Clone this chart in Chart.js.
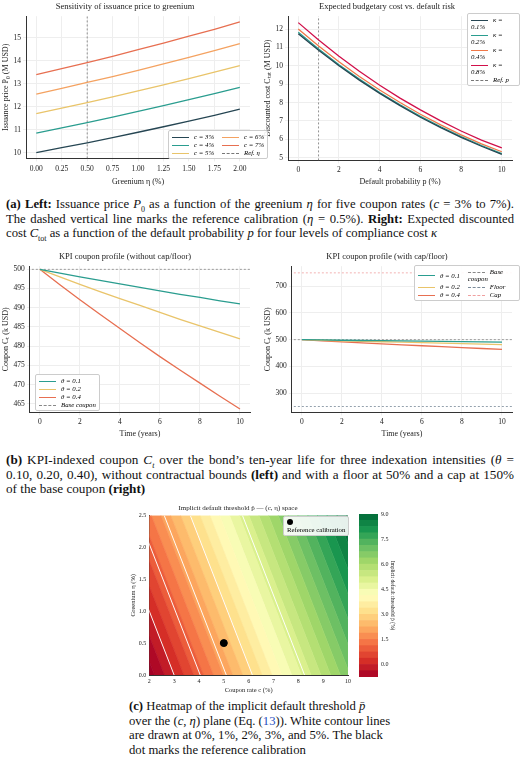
<!DOCTYPE html>
<html><head><meta charset="utf-8">
<script src="https://cdn.jsdelivr.net/npm/chart.js@4.4.1/dist/chart.umd.min.js"></script>
<style>
body{margin:0;width:520px;height:757px;background:#fff;position:relative;font-family:"Liberation Serif",serif;overflow:hidden}
.box{position:absolute}
.cap{position:absolute;font-size:12.7px;line-height:14.6px;text-align:justify;color:#111}
.cap i{font-style:italic}
.cap sub{line-height:0;font-size:8px}
.leg{position:absolute;background:rgba(255,255,255,.9);border:1px solid #ccc;border-radius:2px;font-size:6.8px;padding:2px 3px;display:grid;gap:1px 8px;align-items:center}
.leg span.s{display:inline-block;width:17px;margin-right:5px;vertical-align:middle}
</style></head><body>
<div class="box" style="left:0;top:0;width:258px;height:188px"><canvas id="cA"></canvas></div>
<div class="box" style="left:262px;top:0;width:258px;height:188px"><canvas id="cB"></canvas></div>
<div class="cap" style="left:6px;top:197px;width:508px"><b>(a) Left:</b> Issuance price <i>P</i><sub>0</sub> as a function of the greenium <i>η</i> for five coupon rates (<i>c</i> = 3% to 7%). The dashed vertical line marks the reference calibration (<i>η</i> = 0.5%). <b>Right:</b> Expected discounted cost <i>C</i><sub>tot</sub> as a function of the default probability <i>p</i> for four levels of compliance cost <i>κ</i></div>
<div class="box" style="left:0;top:250px;width:258px;height:190px"><canvas id="cC"></canvas></div>
<div class="box" style="left:262px;top:250px;width:258px;height:190px"><canvas id="cD"></canvas></div>
<div class="cap" style="left:6px;top:453px;width:508px;font-size:13.2px"><b>(b)</b> KPI-indexed coupon <i>C<sub>t</sub></i> over the bond’s ten-year life for three indexation intensities (<i>θ</i> = 0.10, 0.20, 0.40), without contractual bounds <b>(left)</b> and with a floor at 50% and a cap at 150% of the base coupon <b>(right)</b></div>
<div class="box" style="left:128px;top:502px;width:226px;height:192px"><canvas id="cE"></canvas></div>
<div class="box" style="left:352px;top:502px;width:44px;height:192px"><canvas id="cF"></canvas></div>
<div class="cap" style="left:129px;top:699px;width:262px;text-align:left"><b>(c)</b> Heatmap of the implicit default threshold <i>p̄</i> over the (<i>c</i>, <i>η</i>) plane (Eq. (<span style="color:#1f4fbf">13</span>)). White contour lines are drawn at 0%, 1%, 2%, 3%, and 5%. The black dot marks the reference calibration</div>
<script>
// (a) left: issuance price vs greenium
const greenium = [0, 0.25, 0.5, 0.75, 1.0, 1.25, 1.5, 1.75, 2.0];
const couponLabels = ["c = 3%", "c = 4%", "c = 5%", "c = 6%", "c = 7%"];
const priceSeries = [
  [10.0, 10.22, 10.43, 10.66, 10.89, 11.13, 11.38, 11.63, 11.9],
  [10.85, 11.08, 11.31, 11.55, 11.8, 12.05, 12.31, 12.57, 12.85],
  [11.7, 11.94, 12.18, 12.43, 12.69, 12.96, 13.23, 13.51, 13.8],
  [12.55, 12.8, 13.06, 13.32, 13.59, 13.87, 14.15, 14.45, 14.75],
  [13.4, 13.66, 13.93, 14.2, 14.49, 14.78, 15.08, 15.38, 15.7]
];
const refEta = 0.5;
// (a) right: discounted cost vs default probability
const defaultProb = [0, 1, 2, 3, 4, 5, 6, 7, 8, 9, 10];
const kappaLabels = ["κ = 0.1%", "κ = 0.2%", "κ = 0.4%", "κ = 0.8%"];
const costSeries = [
  [11.75, 10.85, 10.0, 9.22, 8.5, 7.83, 7.2, 6.63, 6.1, 5.62, 5.18],
  [11.82, 10.91, 10.06, 9.28, 8.55, 7.88, 7.25, 6.68, 6.15, 5.66, 5.22],
  [12.0, 11.08, 10.22, 9.42, 8.68, 8.0, 7.36, 6.78, 6.24, 5.75, 5.32],
  [12.35, 11.4, 10.52, 9.7, 8.94, 8.24, 7.6, 7.0, 6.45, 5.95, 5.53]
];
const refP = 1;
// (b) KPI coupon
const years = [0, 1, 2, 3, 4, 5, 6, 7, 8, 9, 10];
const thetaLabels = ["θ = 0.1", "θ = 0.2", "θ = 0.4"];
const couponSeries = [
  [500, 499.0, 498.0, 497.1, 496.2, 495.3, 494.4, 493.5, 492.7, 491.8, 491.0],
  [500, 498.0, 496.1, 494.2, 492.4, 490.6, 488.8, 487.0, 485.3, 483.6, 481.9],
  [500, 496.0, 492.1, 488.3, 484.6, 480.9, 477.3, 473.8, 470.4, 467.0, 463.7]
];
const baseCoupon = 500, floorCoupon = 250, capCoupon = 750;
// (c) heatmap: contour band boundaries, c at eta = 0 (shifted by etaShift at eta = 2.5)
const bandLevels = [-0.75, -0.375, 0, 0.375, 0.75, 1.125, 1.5, 1.875, 2.25, 2.625, 3.0, 3.375, 3.75, 4.125, 4.5, 4.875, 5.25, 5.625, 6.0, 6.375, 6.75, 7.125, 7.5, 7.875, 8.25, 8.625, 9.0];
const bandC0 = [2.21, 2.61, 3.0, 3.39, 3.79, 4.18, 4.58, 4.97, 5.36, 5.76, 6.15, 6.54, 6.94, 7.33, 7.73, 8.12, 8.51, 8.91, 9.3, 9.69, 10.09, 10.48, 10.88, 11.27, 11.66, 12.06, 12.45];
const contourLevels = [0, 1, 2, 3, 5];
const contourC0 = [3.0, 4.05, 5.1, 6.15, 8.25];
const etaShift = 2.5;
const refPoint = {x: 5, y: 0.5};

const FONT = "Liberation Serif";
Chart.defaults.font.family = FONT;
Chart.defaults.font.size = 7.5;
Chart.defaults.color = "#222";
Chart.defaults.animation = false;

const pal5 = ["#264653", "#2a9d8f", "#e9c46a", "#f4a261", "#e76f51"];
const pal4 = ["#264653", "#2a9d8f", "#f07848", "#d1104a"];
const pal3 = ["#2a9d8f", "#e9c46a", "#e76f51"];

function pts(xs, ys) { return xs.map((x, i) => ({x, y: ys[i]})); }
function ax(title, min, max, step, extra) {
  return Object.assign({
    type: "linear", min, max,
    title: {display: true, text: title, font: {size: 8}, padding: 1},
    ticks: {stepSize: step, font: {size: 7.5}, padding: 2},
    grid: {color: "#eeeeee", drawTicks: true, tickLength: 3},
    border: {color: "#333", width: 1}
  }, extra || {});
}
function lineChart(id, datasets, title, xs, ys) {
  return new Chart(document.getElementById(id), {
    type: "scatter",
    data: {datasets},
    options: {
      maintainAspectRatio: false, responsive: true,
      layout: {padding: {right: 8, top: 0}},
      plugins: {legend: {display: false}, tooltip: {enabled: false},
        title: {display: true, text: title, font: {size: 8.5, weight: "normal"}, padding: {top: 2, bottom: 4}}},
      elements: {point: {radius: 0}, line: {borderWidth: 1.3}},
      scales: {x: xs, y: ys}
    }
  });
}
function lineDs(label, data, color, extra) {
  return Object.assign({label, data, showLine: true, borderColor: color, backgroundColor: color, fill: false}, extra || {});
}
function legend(left, top, cols, items, rows) {
  const d = document.createElement("div");
  d.className = "leg";
  d.style.left = left + "px"; d.style.top = top + "px";
  if (rows) { d.style.gridAutoFlow = "column"; d.style.gridTemplateRows = "repeat(" + rows + ", auto)"; }
  else d.style.gridTemplateColumns = "repeat(" + cols + ", auto)";
  items.forEach(it => {
    const s = document.createElement("div");
    s.innerHTML = '<span class="s" style="border-top:' + (it.w || 1.6) + 'px ' + (it.dash ? "dashed" : "solid") + ' ' + it.color + '"></span><i>' + it.label + '</i>';
    d.appendChild(s);
  });
  document.body.appendChild(d);
  return d;
}

// A
const dsA = priceSeries.map((s, i) => lineDs(couponLabels[i], pts(greenium, s), pal5[i]));
dsA.push(lineDs("Ref. η", [{x: refEta, y: 9.75}, {x: refEta, y: 15.95}], "#777", {borderWidth: 0.8, borderDash: [2, 2]}));
lineChart("cA", dsA, "Sensitivity of issuance price to greenium",
  ax("Greenium η (%)", -0.1, 2.1, 0.25, {afterBuildTicks: a => { a.ticks = greenium.map(v => ({value: v})); }, ticks: {font: {size: 7.5}, callback: v => v.toFixed(2)}}),
  ax("Issuance price P₀ (M USD)", 9.75, 15.95, 1, {afterBuildTicks: a => { a.ticks = [10, 11, 12, 13, 14, 15].map(v => ({value: v})); }}));
legend(168, 130, 2, couponLabels.map((l, i) => ({label: l, color: pal5[i]})).concat([{label: "Ref. η", color: "#777", dash: true, w: 1}]), 3);

// B
const dsB = costSeries.map((s, i) => lineDs(kappaLabels[i], pts(defaultProb, s), pal4[i]));
dsB.push(lineDs("Ref. p", [{x: refP, y: 4.85}, {x: refP, y: 12.7}], "#777", {borderWidth: 0.8, borderDash: [2, 2]}));
lineChart("cB", dsB, "Expected budgetary cost vs. default risk",
  ax("Default probability p (%)", -0.5, 10.5, 2, {afterBuildTicks: a => { a.ticks = [0, 2, 4, 6, 8, 10].map(v => ({value: v})); }}),
  ax("Discounted cost Cₜₒₜ (M USD)", 4.85, 12.7, 1, {afterBuildTicks: a => { a.ticks = [5, 6, 7, 8, 9, 10, 11, 12].map(v => ({value: v})); }}));
legend(467, 13, 1, kappaLabels.map((l, i) => ({label: l, color: pal4[i]})).concat([{label: "Ref. p", color: "#777", dash: true, w: 1}]));

// C
const yearTicks = a => { a.ticks = [0, 2, 4, 6, 8, 10].map(v => ({value: v})); };
const dsC = couponSeries.map((s, i) => lineDs(thetaLabels[i], pts(years, s), pal3[i]));
dsC.push(lineDs("Base coupon", [{x: -1, y: baseCoupon}, {x: 11, y: baseCoupon}], "#888", {borderWidth: 0.8, borderDash: [2, 2]}));
lineChart("cC", dsC, "KPI coupon profile (without cap/floor)",
  ax("Time (years)", -0.5, 10.5, 2, {afterBuildTicks: yearTicks}),
  ax("Coupon Cₜ (k USD)", 462.8, 500.8, 5, {afterBuildTicks: a => { a.ticks = [465, 470, 475, 480, 485, 490, 495, 500].map(v => ({value: v})); }}));
legend(35, 374, 1, thetaLabels.map((l, i) => ({label: l, color: pal3[i]})).concat([{label: "Base coupon", color: "#888", dash: true, w: 1}]));

// D
const dsD = couponSeries.map((s, i) => lineDs(thetaLabels[i], pts(years, s), pal3[i]));
dsD.push(lineDs("Base coupon", [{x: -1, y: baseCoupon}, {x: 11, y: baseCoupon}], "#888", {borderWidth: 0.8, borderDash: [2, 2]}));
dsD.push(lineDs("Floor", [{x: -1, y: floorCoupon}, {x: 11, y: floorCoupon}], "#7a8a99", {borderWidth: 0.8, borderDash: [2, 2]}));
dsD.push(lineDs("Cap", [{x: -1, y: capCoupon}, {x: 11, y: capCoupon}], "#f0a0a0", {borderWidth: 0.8, borderDash: [2, 2]}));
lineChart("cD", dsD, "KPI coupon profile (with cap/floor)",
  ax("Time (years)", -0.5, 10.5, 2, {afterBuildTicks: yearTicks}),
  ax("Coupon Cₜ (k USD)", 228, 775, 100, {afterBuildTicks: a => { a.ticks = [300, 400, 500, 600, 700].map(v => ({value: v})); }}));
legend(414, 265, 2, [
  {label: thetaLabels[0], color: pal3[0]}, {label: thetaLabels[1], color: pal3[1]}, {label: thetaLabels[2], color: pal3[2]},
  {label: "Base coupon", color: "#888", dash: true, w: 1}, {label: "Floor", color: "#7a8a99", dash: true, w: 1},
  {label: "Cap", color: "#f0a0a0", dash: true, w: 1}], 3);

// E heatmap
const rdylgn = ["#a50026", "#d73027", "#f46d43", "#fdae61", "#fee08b", "#ffffbf", "#d9ef8b", "#a6d96a", "#66bd63", "#1a9850", "#006837"];
function hex(h) { return [1, 3, 5].map(i => parseInt(h.substr(i, 2), 16)); }
function cmap(t) {
  t = Math.max(0, Math.min(1, t));
  const f = t * (rdylgn.length - 1), i = Math.min(Math.floor(f), rdylgn.length - 2), u = f - i;
  const a = hex(rdylgn[i]), b = hex(rdylgn[i + 1]);
  return "rgb(" + a.map((v, k) => Math.round(v + (b[k] - v) * u)).join(",") + ")";
}
const edgesC0 = [-5].concat(bandC0, [25]);
const nBands = edgesC0.length - 1;
const dsE = [];
for (let i = 0; i < nBands; i++) {
  const col = cmap((i + 0.5 - 1) / (bandLevels.length - 1));
  const a = edgesC0[i], b = edgesC0[i + 1];
  dsE.push({data: [{x: a, y: 0}, {x: a - etaShift, y: 2.5}, {x: b - etaShift, y: 2.5}, {x: b, y: 0}, {x: a, y: 0}],
    showLine: true, fill: "shape", backgroundColor: col, borderColor: col, borderWidth: 0.6, pointRadius: 0, order: 10});
}
contourC0.forEach(c => dsE.push({data: [{x: c, y: 0}, {x: c - etaShift, y: 2.5}], showLine: true, borderColor: "rgba(255,255,255,0.95)", borderWidth: 1, pointRadius: 0, order: 5}));
dsE.push({data: [refPoint], pointRadius: 3.5, backgroundColor: "#000", borderColor: "#000", order: 0});
new Chart(document.getElementById("cE"), {
  type: "scatter", data: {datasets: dsE},
  options: {
    maintainAspectRatio: false, responsive: true, layout: {padding: {right: 6}},
    plugins: {legend: {display: false}, tooltip: {enabled: false}, filler: {propagate: false},
      title: {display: true, text: "Implicit default threshold p̄ — (c, η) space", font: {size: 7, weight: "normal"}, padding: {top: 2, bottom: 3}}},
    scales: {
      x: {type: "linear", min: 2, max: 10, title: {display: true, text: "Coupon rate c (%)", font: {size: 6.5}, padding: 0},
        ticks: {stepSize: 1, font: {size: 6}, padding: 1}, grid: {display: false, tickLength: 2}, border: {color: "#333"}},
      y: {type: "linear", min: 0, max: 2.5, title: {display: true, text: "Greenium η (%)", font: {size: 6.5}, padding: 1},
        ticks: {stepSize: 0.5, font: {size: 6}, padding: 1, callback: v => v.toFixed(1)}, grid: {display: false, tickLength: 2}, border: {color: "#333"}}
    }
  }
});
const legE = legend(283, 516, 1, []);
legE.innerHTML = '<span style="display:inline-block;width:6px;height:6px;border-radius:3px;background:#000;margin-right:4px;vertical-align:middle"></span>Reference calibration';

// F colorbar
const dsF = [];
for (let i = 0; i < bandLevels.length - 1; i++) {
  dsF.push({data: [[bandLevels[i], bandLevels[i + 1]]], backgroundColor: cmap((i + 0.5) / (bandLevels.length - 1)), borderWidth: 0, barPercentage: 1, categoryPercentage: 1, grouped: false});
}
new Chart(document.getElementById("cF"), {
  type: "bar", data: {labels: [""], datasets: dsF},
  options: {
    maintainAspectRatio: false, responsive: true, layout: {padding: {top: 12, bottom: 17, left: 7}},
    plugins: {legend: {display: false}, tooltip: {enabled: false}},
    scales: {
      x: {display: false},
      y: {position: "right", min: -0.75, max: 9, grid: {display: false, tickLength: 2},
        afterBuildTicks: a => { a.ticks = [0, 1.5, 3, 4.5, 6, 7.5, 9].map(v => ({value: v})); },
        ticks: {font: {size: 6}, padding: 1, callback: v => v.toFixed(1)},
        title: {display: true, text: "Implicit default threshold p̄ (%)", font: {size: 5.5}, padding: 0}, border: {display: false}}
    }
  }
});
</script>
</body></html>
